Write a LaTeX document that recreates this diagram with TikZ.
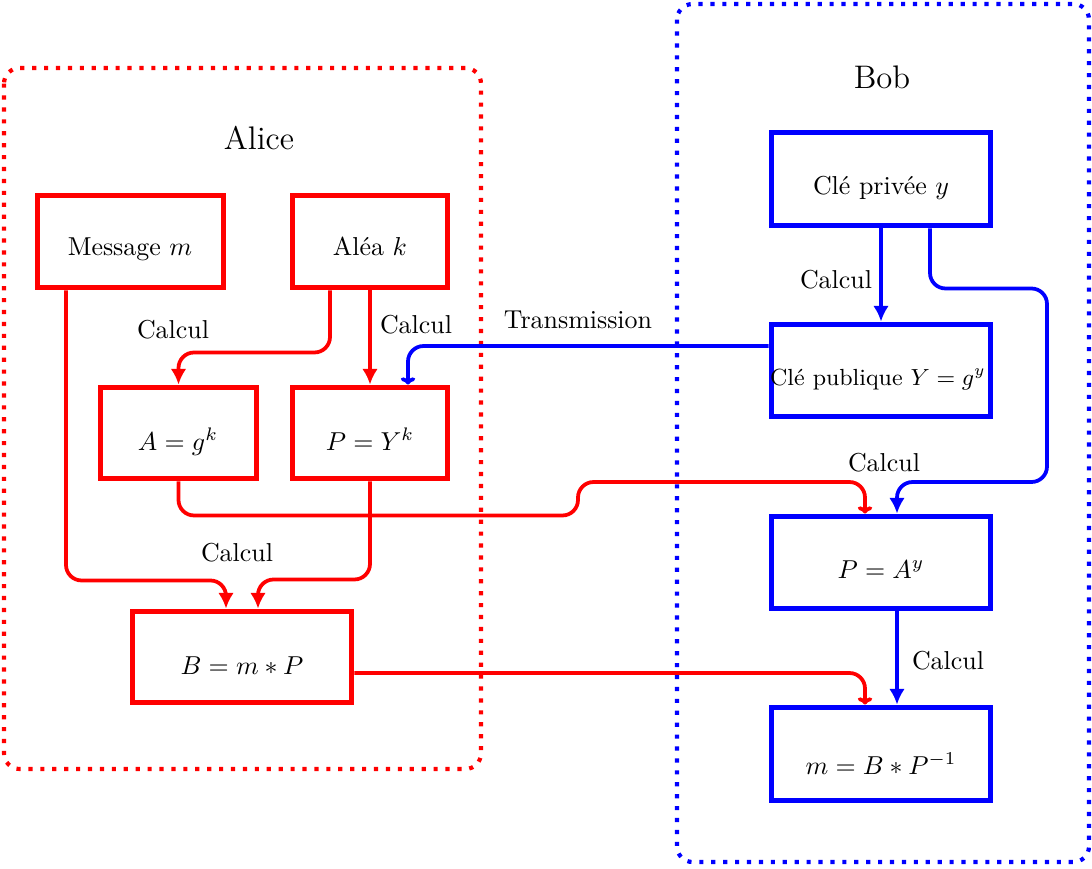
\documentclass[tikz,border=0pt]{standalone}
\usetikzlibrary{arrows.meta}
\newcommand\pxu{0.386pt}
\begin{document}
\begin{tikzpicture}[x=0.386pt,y=-0.386pt,
  redbox/.style={draw=red,line width=2.3pt,inner sep=0pt},
  bluebox/.style={draw=blue,line width=2.3pt,inner sep=0pt},
  wh/.style 2 args={minimum width=#1*\pxu,minimum height=#2*\pxu},
  rl/.style={draw=red,line width=1.45pt,rounded corners=6pt},
  bl/.style={draw=blue,line width=1.45pt,rounded corners=6pt},
  fill tip/.style={-{Latex[length=6pt,width=6pt]}},
  open tip/.style={-{To[length=2.8pt,width=5.6pt]}},
  txt/.style={anchor=base,inner sep=0pt,font=\fontsize{10}{12}\selectfont},
  lbl/.style={inner sep=0pt,font=\fontsize{10}{12}\selectfont},
  title/.style={inner sep=0pt,font=\fontsize{12.6}{15}\selectfont},
  region/.style={line width=1.6pt,dash pattern=on 1.6pt off 3pt,rounded corners=6pt}]
\useasboundingbox (0,0) rectangle (1092,868);
% regions
\draw[region,red] (4,68) rectangle (481,769);
\draw[region,blue] (677,4) rectangle (1089,862);
\node[title] (alice) at (259,138) {Alice};
\node[title] (bob) at (882,77) {Bob};
% Alice boxes
\node[redbox,wh={186}{92}] (msg) at (130.5,241.5) {};
\node[redbox,wh={155}{92}] (alea) at (370,241.5) {};
\node[redbox,wh={156}{91}] (A) at (178.5,433) {};
\node[redbox,wh={155}{91}] (P) at (370,433) {};
\node[redbox,wh={219}{91}] (B) at (242,657) {};
\node[txt] (msgt) at (130,255) {Message $m$};
\node[txt] (aleat) at (370,255) {Aléa $k$};
\node[txt] (At) at (178,450) {$A=g^k$};
\node[txt] (Pt) at (370,450) {$P=Y^k$};
\node[txt] (Bt) at (242,674) {$B=m*P$};
% Bob boxes
\node[bluebox,wh={219}{93}] (priv) at (881,179) {};
\node[bluebox,wh={219}{92}] (pub) at (881,370.5) {};
\node[bluebox,wh={219}{92}] (PA) at (881,562.5) {};
\node[bluebox,wh={219}{93}] (mB) at (881,754) {};
\node[txt] (privt) at (881,194) {Clé privée $y$};
\node[txt,font=\fontsize{9}{11}\selectfont] (pubt) at (878,385) {Clé publique $Y=g^y$};
\node[txt] (PAt) at (881,578) {$P=A^y$};
\node[txt] (mBt) at (881,774) {$m=B*P^{-1}$};
% connectors Alice
\draw[rl,fill tip] ([xshift=-40*\pxu]alea.south) -- ++(0,62) -| (A.north);
\draw[rl,fill tip] (alea.south) -- (P.north);
\draw[rl,fill tip] ([xshift=-64.5*\pxu]msg.south) -- ++(0,290) -| ([xshift=-16*\pxu]B.north);
\draw[rl,fill tip] (P.south) -- ++(0,98) -| ([xshift=16*\pxu]B.north);
\draw[rl,open tip] (A.south) -- ++(0,34) -| (578,482) -| ([xshift=-16*\pxu]PA.north);
\draw[rl,open tip] ([yshift=-16*\pxu]B.east) -| ([xshift=-16*\pxu]mB.north);
% connectors Bob
\draw[bl,fill tip] (priv.south) -- (pub.north);
\draw[bl,fill tip] ([xshift=49*\pxu]priv.south) -- ++(0,60) -| (1047,482) -| ([xshift=16*\pxu]PA.north);
\draw[bl,open tip] ([yshift=24.5*\pxu]pub.west) -| ([xshift=38*\pxu]P.north);
\draw[bl,fill tip] ([xshift=16*\pxu]PA.south) -- ([xshift=16*\pxu]mB.north);
% labels
\node[lbl] (c1) at (173,330) {Calcul};
\node[lbl] (c2) at (416,325) {Calcul};
\node[lbl] (c3) at (237,553) {Calcul};
\node[lbl] (c4) at (836,280) {Calcul};
\node[lbl] (c5) at (884,463) {Calcul};
\node[lbl] (c6) at (948,661) {Calcul};
\node[lbl] (tr) at (578,320) {Transmission};
\end{tikzpicture}
\end{document}
